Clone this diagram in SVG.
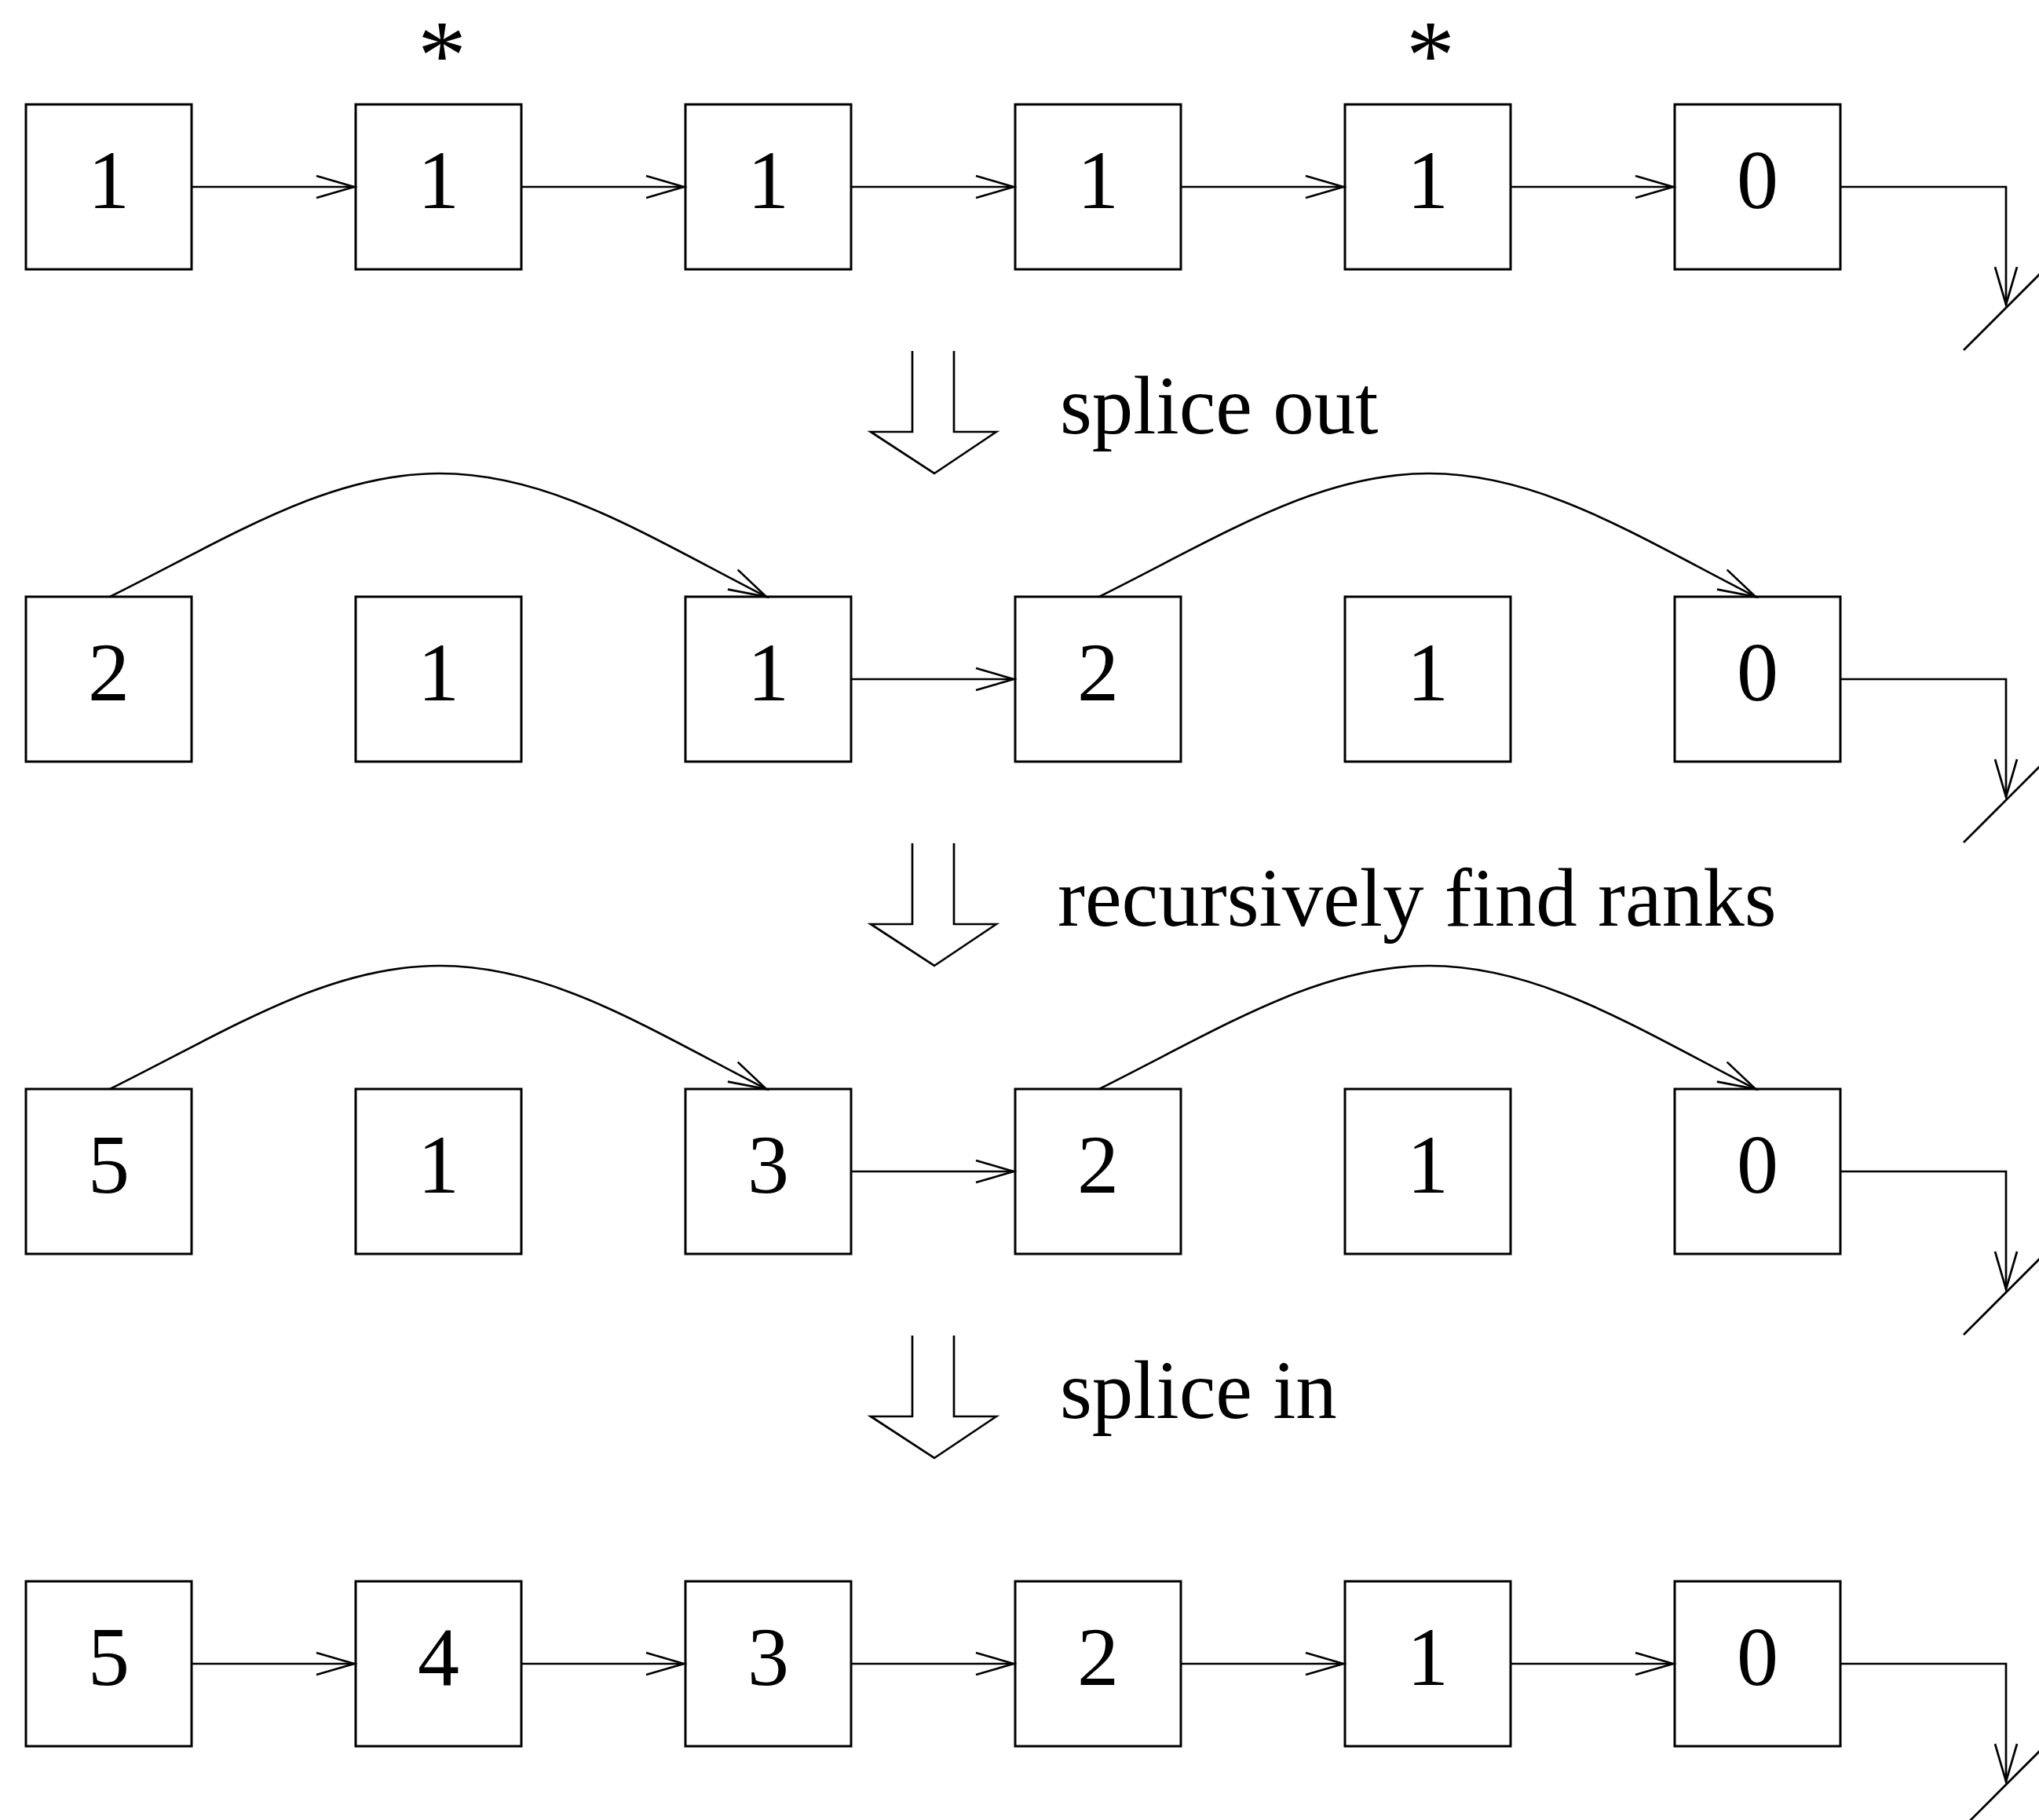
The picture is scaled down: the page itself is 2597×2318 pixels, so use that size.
<svg xmlns="http://www.w3.org/2000/svg" width="2597" height="2318" viewBox="0 0 2597 2318">
<style>
.box{fill:#fff;stroke:#000;stroke-width:3}
.num{font-family:"Liberation Serif","Times New Roman",serif;font-size:106px;text-anchor:middle;fill:#000}
.lbl{font-family:"Liberation Serif","Times New Roman",serif;font-size:105px;fill:#000}
.ast{font-family:"Liberation Serif","Times New Roman",serif;font-size:124px;text-anchor:middle;fill:#000}
.ln{fill:none;stroke:#000;stroke-width:2.7}
.arr{marker-end:url(#ah)}
.big{fill:none;stroke:#000;stroke-width:2.7;stroke-linejoin:miter}
</style>
<defs>
<marker id="ah" markerUnits="userSpaceOnUse" markerWidth="60" markerHeight="40" refX="0" refY="0" orient="auto" overflow="visible">
<path d="M-48,-14 L0,0 L-48,14" fill="none" stroke="#000" stroke-width="2.7"/>
</marker>
</defs>

<!-- asterisks -->
<text class="ast" x="563" y="112">*</text>
<text class="ast" x="1822" y="112">*</text>

<!-- row 1 -->
<g id="r1n1"><rect class="box" x="33" y="133" width="211" height="210"/><text class="num" x="138.5" y="265">1</text></g>
<g id="r1n2"><rect class="box" x="453" y="133" width="211" height="210"/><text class="num" x="558.5" y="265">1</text></g>
<g id="r1n3"><rect class="box" x="873" y="133" width="211" height="210"/><text class="num" x="978.5" y="265">1</text></g>
<g id="r1n4"><rect class="box" x="1293" y="133" width="211" height="210"/><text class="num" x="1398.5" y="265">1</text></g>
<g id="r1n5"><rect class="box" x="1713" y="133" width="211" height="210"/><text class="num" x="1818.5" y="265">1</text></g>
<g id="r1n6"><rect class="box" x="2133" y="133" width="211" height="210"/><text class="num" x="2238.5" y="265">0</text></g>

<!-- row 2 -->
<g id="r2n1"><rect class="box" x="33" y="760" width="211" height="210"/><text class="num" x="138.5" y="892">2</text></g>
<g id="r2n2"><rect class="box" x="453" y="760" width="211" height="210"/><text class="num" x="558.5" y="892">1</text></g>
<g id="r2n3"><rect class="box" x="873" y="760" width="211" height="210"/><text class="num" x="978.5" y="892">1</text></g>
<g id="r2n4"><rect class="box" x="1293" y="760" width="211" height="210"/><text class="num" x="1398.5" y="892">2</text></g>
<g id="r2n5"><rect class="box" x="1713" y="760" width="211" height="210"/><text class="num" x="1818.5" y="892">1</text></g>
<g id="r2n6"><rect class="box" x="2133" y="760" width="211" height="210"/><text class="num" x="2238.5" y="892">0</text></g>

<!-- row 3 -->
<g id="r3n1"><rect class="box" x="33" y="1387" width="211" height="210"/><text class="num" x="138.5" y="1519">5</text></g>
<g id="r3n2"><rect class="box" x="453" y="1387" width="211" height="210"/><text class="num" x="558.5" y="1519">1</text></g>
<g id="r3n3"><rect class="box" x="873" y="1387" width="211" height="210"/><text class="num" x="978.5" y="1519">3</text></g>
<g id="r3n4"><rect class="box" x="1293" y="1387" width="211" height="210"/><text class="num" x="1398.5" y="1519">2</text></g>
<g id="r3n5"><rect class="box" x="1713" y="1387" width="211" height="210"/><text class="num" x="1818.5" y="1519">1</text></g>
<g id="r3n6"><rect class="box" x="2133" y="1387" width="211" height="210"/><text class="num" x="2238.5" y="1519">0</text></g>

<!-- row 4 -->
<g id="r4n1"><rect class="box" x="33" y="2014" width="211" height="210"/><text class="num" x="138.5" y="2146">5</text></g>
<g id="r4n2"><rect class="box" x="453" y="2014" width="211" height="210"/><text class="num" x="558.5" y="2146">4</text></g>
<g id="r4n3"><rect class="box" x="873" y="2014" width="211" height="210"/><text class="num" x="978.5" y="2146">3</text></g>
<g id="r4n4"><rect class="box" x="1293" y="2014" width="211" height="210"/><text class="num" x="1398.5" y="2146">2</text></g>
<g id="r4n5"><rect class="box" x="1713" y="2014" width="211" height="210"/><text class="num" x="1818.5" y="2146">1</text></g>
<g id="r4n6"><rect class="box" x="2133" y="2014" width="211" height="210"/><text class="num" x="2238.5" y="2146">0</text></g>

<g id="connectors">
<!-- row 1 -->
<path class="ln arr" d="M244,238 H451"/>
<path class="ln arr" d="M664,238 H871"/>
<path class="ln arr" d="M1084,238 H1291"/>
<path class="ln arr" d="M1504,238 H1711"/>
<path class="ln arr" d="M1924,238 H2131"/>
<path class="ln arr" d="M2344,238 H2555 V388"/>
<path class="ln" d="M2501,446 L2615,332"/>
<!-- row 2 -->
<path class="ln arr" d="M140,760 C300,680 420,603 560,603 C700,603 820,680 976,760"/>
<path class="ln arr" d="M1084,865 H1291"/>
<path class="ln arr" d="M1400,760 C1560,680 1680,603 1820,603 C1960,603 2080,680 2236,760"/>
<path class="ln arr" d="M2344,865 H2555 V1015"/>
<path class="ln" d="M2501,1073 L2615,959"/>
<!-- row 3 -->
<path class="ln arr" d="M140,1387 C300,1307 420,1230 560,1230 C700,1230 820,1307 976,1387"/>
<path class="ln arr" d="M1084,1492 H1291"/>
<path class="ln arr" d="M1400,1387 C1560,1307 1680,1230 1820,1230 C1960,1230 2080,1307 2236,1387"/>
<path class="ln arr" d="M2344,1492 H2555 V1642"/>
<path class="ln" d="M2501,1700 L2615,1586"/>
<!-- row 4 -->
<path class="ln arr" d="M244,2119 H451"/>
<path class="ln arr" d="M664,2119 H871"/>
<path class="ln arr" d="M1084,2119 H1291"/>
<path class="ln arr" d="M1504,2119 H1711"/>
<path class="ln arr" d="M1924,2119 H2131"/>
<path class="ln arr" d="M2344,2119 H2555 V2269"/>
<path class="ln" d="M2501,2327 L2615,2213"/>
<!-- big hollow step arrows -->
<polyline class="big" points="1162,447 1162,550 1109,550 1190,603 1269,550 1215,550 1215,447"/>
<polyline class="big" points="1162,1074 1162,1177 1109,1177 1190,1230 1269,1177 1215,1177 1215,1074"/>
<polyline class="big" points="1162,1701 1162,1804 1109,1804 1190,1857 1269,1804 1215,1804 1215,1701"/>
</g>

<text class="lbl" x="1350" y="552">splice out</text>
<text class="lbl" x="1347" y="1179">recursively find ranks</text>
<text class="lbl" x="1350" y="1806">splice in</text>
</svg>
